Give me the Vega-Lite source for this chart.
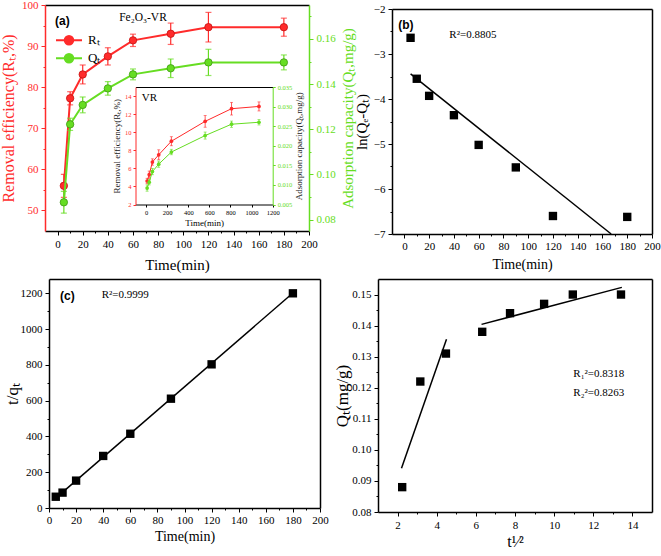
{
"$schema":"https://vega.github.io/schema/vega-lite/v6.json",
"width":661,"height":556,"autosize":"none","padding":0,"background":"white",
"config":{"view":{"stroke":null},
 "style":{"guide-title":{"font":"Liberation Serif","fontWeight":400},"guide-label":{"font":"Liberation Serif"}},
 "axis":{"grid":false,"labelFont":"Liberation Serif","titleFont":"Liberation Serif","titleFontWeight":400,"labelFontSize":11,"titleFontSize":15,"labelColor":"black","titleColor":"black","domainColor":"black","tickColor":"black","domainWidth":1.5,"tickWidth":1,"tickSize":4,"labelPadding":2,"labelFlush":false,"labelOverlap":false},
 "text":{"font":"Liberation Serif"}},
"datasets":{
 "a":[
  {"t":5,"R":56.0,"Rlo":53.2,"Rhi":58.8,"Q":0.0877,"Qlo":0.0829,"Qhi":0.0925},
  {"t":10,"R":77.3,"Rlo":75.7,"Rhi":78.9,"Q":0.1222,"Qlo":0.1195,"Qhi":0.1249},
  {"t":20,"R":83.1,"Rlo":80.8,"Rhi":85.4,"Q":0.1308,"Qlo":0.1273,"Qhi":0.1343},
  {"t":40,"R":87.5,"Rlo":85.4,"Rhi":89.6,"Q":0.1381,"Qlo":0.1351,"Qhi":0.1411},
  {"t":60,"R":91.4,"Rlo":89.9,"Rhi":92.9,"Q":0.1443,"Qlo":0.1419,"Qhi":0.1467},
  {"t":90,"R":93.0,"Rlo":90.4,"Rhi":95.6,"Q":0.1470,"Qlo":0.1429,"Qhi":0.1511},
  {"t":120,"R":94.6,"Rlo":91.0,"Rhi":98.2,"Q":0.1496,"Qlo":0.1438,"Qhi":0.1554},
  {"t":180,"R":94.6,"Rlo":92.4,"Rhi":96.8,"Q":0.1496,"Qlo":0.1463,"Qhi":0.1529}
 ],
 "inset":[
  {"t":10,"R":4.6,"Rlo":4.3,"Rhi":4.9,"Q":0.0092,"Qlo":0.0084,"Qhi":0.0100},
  {"t":30,"R":5.3,"Rlo":4.9,"Rhi":5.7,"Q":0.0107,"Qlo":0.0100,"Qhi":0.0114},
  {"t":60,"R":6.7,"Rlo":6.35,"Rhi":7.05,"Q":0.0134,"Qlo":0.0126,"Qhi":0.0142},
  {"t":120,"R":7.5,"Rlo":6.95,"Rhi":8.05,"Q":0.0153,"Qlo":0.0145,"Qhi":0.0161},
  {"t":240,"R":9.0,"Rlo":8.5,"Rhi":9.5,"Q":0.0184,"Qlo":0.0177,"Qhi":0.0191},
  {"t":560,"R":11.2,"Rlo":10.55,"Rhi":11.85,"Q":0.0226,"Qlo":0.0217,"Qhi":0.0235},
  {"t":810,"R":12.6,"Rlo":11.9,"Rhi":13.3,"Q":0.0255,"Qlo":0.0247,"Qhi":0.0263},
  {"t":1070,"R":12.85,"Rlo":12.35,"Rhi":13.35,"Q":0.0260,"Qlo":0.0253,"Qhi":0.0267}
 ],
 "b":[{"t":5,"v":-2.64},{"t":10,"v":-3.55},{"t":20,"v":-3.93},{"t":40,"v":-4.36},{"t":60,"v":-5.02},{"t":90,"v":-5.52},{"t":120,"v":-6.6},{"t":180,"v":-6.62}],
 "bfit":[{"t":5,"v":-3.44},{"t":167,"v":-7}],
 "c":[{"t":5,"v":63},{"t":10,"v":86},{"t":20,"v":153},{"t":40,"v":291},{"t":60,"v":415},{"t":90,"v":611},{"t":120,"v":803},{"t":180,"v":1200}],
 "cfit":[{"t":5,"v":55},{"t":180,"v":1202}],
 "d":[{"x":2.236,"v":0.088},{"x":3.162,"v":0.122},{"x":4.472,"v":0.131},{"x":6.325,"v":0.138},{"x":7.746,"v":0.144},{"x":9.487,"v":0.147},{"x":10.954,"v":0.150},{"x":13.416,"v":0.150}],
 "dfit":[{"x":2.2,"v":0.0941,"seg":1},{"x":4.5,"v":0.1356,"seg":1},{"x":6.29,"v":0.1404,"seg":2},{"x":13.46,"v":0.1523,"seg":2}]
},
"resolve":{"scale":{"x":"independent","y":"independent"}},
"layer":[
 {"resolve":{"axis":{"x":"independent","y":"independent"}},
  "layer":[
   {"data":{"name":"a"},"mark":{"type":"rule","color":"#ff2b2b","strokeWidth":1.2},
    "encoding":{
     "x":{"field":"t","type":"quantitative","scale":{"domain":[-10,200],"range":[45,309],"zero":false,"nice":false},
          "axis":{"orient":"bottom","offset":-325,"values":[0,20,40,60,80,100,120,140,160,180,200],"title":"Time(min)","titleFontSize":15,"titleFontWeight":400,"labelPadding":3,"titlePadding":8}},
     "y":{"field":"Rlo","type":"quantitative","scale":{"domain":[45,100],"range":[231,5],"zero":false,"nice":false},
          "axis":{"orient":"left","offset":-45,"values":[50,60,70,80,90,100],"title":"Removal efficiency(Rₜ,%)","titleFontSize":16,"titleFontWeight":400,"titlePadding":5,"labelPadding":3,"domainColor":"#ff2b2b","tickColor":"#ff2b2b","labelColor":"#ff2b2b","titleColor":"#ff2b2b"}},
     "y2":{"field":"Rhi"}}},
   {"data":{"name":"a"},"mark":{"type":"tick","orient":"horizontal","color":"#ff2b2b","size":6,"thickness":1.2},
    "encoding":{"x":{"field":"t","type":"quantitative","axis":null},"y":{"field":"Rhi","type":"quantitative","axis":null}}},
   {"data":{"name":"a"},"mark":{"type":"tick","orient":"horizontal","color":"#ff2b2b","size":6,"thickness":1.2},
    "encoding":{"x":{"field":"t","type":"quantitative","axis":null},"y":{"field":"Rlo","type":"quantitative","axis":null}}},
   {"data":{"name":"a"},"mark":{"type":"line","strokeWidth":2},
    "encoding":{
     "x":{"field":"t","type":"quantitative","axis":{"orient":"bottom","offset":-325,"values":[10,30,50,70,90,110,130,150,170,190],"labels":false,"domain":false,"tickSize":2,"title":null}},
     "y":{"field":"R","type":"quantitative","axis":{"orient":"left","offset":-45,"values":[55,65,75,85,95],"labels":false,"domain":false,"tickSize":2,"tickColor":"#ff2b2b","title":null}},
     "color":{"datum":"Rₜ","type":"nominal","scale":{"domain":["Rₜ","Qₜ"],"range":["#ff2b2b","#66dd22"]},
       "legend":{"orient":"none","legendX":61.5,"legendY":32.8,"title":null,"padding":0,"symbolType":"M-2,0L2,0M0.66,0A0.66,0.66,0,1,1,-0.66,0A0.66,0.66,0,1,1,0.66,0","symbolSize":169,"symbolStrokeWidth":2,"labelFont":"Liberation Serif","labelFontSize":13,"labelColor":"black","labelOffset":11.5,"rowPadding":1,
         "encode":{"symbols":{"update":{"fill":{"scale":"color","field":"value"},"stroke":{"scale":"color","field":"value"}}}}}}}},
   {"data":{"name":"a"},"mark":{"type":"point","shape":"circle","filled":true,"size":55,"color":"#ff2b2b","stroke":"#c41010","strokeWidth":0.8,"opacity":1},
    "encoding":{
     "x":{"field":"t","type":"quantitative","axis":{"orient":"top","offset":-5,"labels":false,"ticks":false,"title":null}},
     "y":{"field":"R","type":"quantitative","axis":null}}},
   {"data":{"values":[{}]},"mark":{"type":"text","text":"(a)","font":"Liberation Sans","fontWeight":"bold","fontSize":12,"align":"left","baseline":"middle"},
    "encoding":{"x":{"datum":-2,"type":"quantitative","axis":null},"y":{"datum":96.1,"type":"quantitative","axis":null}}},
   {"data":{"values":[{}]},"mark":{"type":"text","text":"Fe₂O₃-VR","fontSize":11.5,"align":"left","baseline":"middle"},
    "encoding":{"x":{"datum":49,"type":"quantitative","axis":null},"y":{"datum":96.9,"type":"quantitative","axis":null}}}
  ]},
 {"resolve":{"axis":{"x":"independent","y":"independent"}},
  "layer":[
   {"data":{"name":"a"},"mark":{"type":"rule","color":"#66dd22","strokeWidth":1.2},
    "encoding":{
     "x":{"field":"t","type":"quantitative","scale":{"domain":[-10,200],"range":[45,309],"zero":false,"nice":false},"axis":null},
     "y":{"field":"Qlo","type":"quantitative","scale":{"domain":[0.075,0.175],"range":[231,5],"zero":false,"nice":false},
          "axis":{"orient":"right","offset":-352,"values":[0.08,0.1,0.12,0.14,0.16],"format":".2f","title":"Adsorption capacity(Qₜ,mg/g)","titleFontSize":15,"titleFontWeight":400,"titleAngle":270,"titleBaseline":"top","titlePadding":5,"labelPadding":3,"domainColor":"#66dd22","tickColor":"#66dd22","labelColor":"#66dd22","titleColor":"#66dd22"}},
     "y2":{"field":"Qhi"}}},
   {"data":{"name":"a"},"mark":{"type":"tick","orient":"horizontal","color":"#66dd22","size":6,"thickness":1.2},
    "encoding":{"x":{"field":"t","type":"quantitative","axis":null},"y":{"field":"Qhi","type":"quantitative","axis":null}}},
   {"data":{"name":"a"},"mark":{"type":"tick","orient":"horizontal","color":"#66dd22","size":6,"thickness":1.2},
    "encoding":{"x":{"field":"t","type":"quantitative","axis":null},"y":{"field":"Qlo","type":"quantitative","axis":null}}},
   {"data":{"name":"a"},"mark":{"type":"line","strokeWidth":2},
    "encoding":{
     "x":{"field":"t","type":"quantitative","axis":null},
     "y":{"field":"Q","type":"quantitative","axis":{"orient":"right","offset":-352,"values":[0.09,0.11,0.13,0.15,0.17],"labels":false,"domain":false,"tickSize":2,"tickColor":"#66dd22","title":null}},
     "color":{"datum":"Qₜ","type":"nominal","scale":{"domain":["Rₜ","Qₜ"],"range":["#ff2b2b","#66dd22"]},
       "legend":{"orient":"none","legendX":61.5,"legendY":32.8,"title":null,"padding":0,"symbolType":"M-2,0L2,0M0.66,0A0.66,0.66,0,1,1,-0.66,0A0.66,0.66,0,1,1,0.66,0","symbolSize":169,"symbolStrokeWidth":2,"labelFont":"Liberation Serif","labelFontSize":13,"labelColor":"black","labelOffset":11.5,"rowPadding":1,
         "encode":{"symbols":{"update":{"fill":{"scale":"color","field":"value"},"stroke":{"scale":"color","field":"value"}}}}}}}},
   {"data":{"name":"a"},"mark":{"type":"point","shape":"circle","filled":true,"size":55,"color":"#66dd22","stroke":"#3d9a12","strokeWidth":0.8,"opacity":1},
    "encoding":{"x":{"field":"t","type":"quantitative","axis":null},"y":{"field":"Q","type":"quantitative","axis":null}}}
  ]},
 {"resolve":{"axis":{"x":"independent","y":"independent"}},
  "layer":[
   {"data":{"name":"inset"},"mark":{"type":"rule","color":"#ff2b2b","strokeWidth":0.8},
    "encoding":{
     "x":{"field":"t","type":"quantitative","scale":{"domain":[-100,1200],"range":[135.5,272.7],"zero":false,"nice":false},
          "axis":{"orient":"bottom","offset":-351.5,"values":[0,200,400,600,800,1000,1200],"format":"d","title":"Time(min)","titleFontSize":9,"titleFontWeight":400,"labelFontSize":6.5,"tickSize":2.5,"domainWidth":1,"labelPadding":2,"titlePadding":3}},
     "y":{"field":"Rlo","type":"quantitative","scale":{"domain":[2,15],"range":[204.5,87],"zero":false,"nice":false},
          "axis":{"orient":"left","offset":-135.5,"values":[2,4,6,8,10,12,14],"title":"Removal efficiency(Rₜ,%)","titleFontSize":9,"titleFontWeight":400,"labelFontSize":6.5,"tickSize":2.5,"domainWidth":1,"titlePadding":3,"domainColor":"#ff2b2b","tickColor":"#ff2b2b","labelColor":"#ff2b2b","titleColor":"#222222"}},
     "y2":{"field":"Rhi"}}},
   {"data":{"name":"inset"},"mark":{"type":"tick","orient":"horizontal","color":"#ff2b2b","size":3,"thickness":0.8},
    "encoding":{"x":{"field":"t","type":"quantitative","axis":null},"y":{"field":"Rhi","type":"quantitative","axis":null}}},
   {"data":{"name":"inset"},"mark":{"type":"tick","orient":"horizontal","color":"#ff2b2b","size":3,"thickness":0.8},
    "encoding":{"x":{"field":"t","type":"quantitative","axis":null},"y":{"field":"Rlo","type":"quantitative","axis":null}}},
   {"data":{"name":"inset"},"mark":{"type":"line","strokeWidth":1},
    "encoding":{
     "x":{"field":"t","type":"quantitative","axis":{"orient":"top","offset":-87,"labels":false,"ticks":false,"title":null,"domainWidth":1}},
     "y":{"field":"R","type":"quantitative","axis":null},
     "stroke":{"datum":"Rₜ","type":"nominal","scale":{"domain":["Rₜ","Qₜ"],"range":["#ff2b2b","#66dd22"]},
       "legend":{"orient":"none","legendX":240,"legendY":134,"title":null,"padding":0,"symbolType":"M-2,0L2,0M0.9,0A0.9,0.9,0,1,1,-0.9,0A0.9,0.9,0,1,1,0.9,0","symbolSize":16,"symbolStrokeWidth":1,"labelFont":"Liberation Serif","labelFontSize":6.5,"labelColor":"black","labelOffset":8,"rowPadding":1.5,
         "encode":{"symbols":{"update":{"fill":{"scale":"stroke","field":"value"},"stroke":{"scale":"stroke","field":"value"}}}}}}}},
   {"data":{"name":"inset"},"mark":{"type":"point","shape":"circle","filled":true,"size":14,"color":"#ff2b2b","opacity":1},
    "encoding":{"x":{"field":"t","type":"quantitative","axis":null},"y":{"field":"R","type":"quantitative","axis":null}}},
   {"data":{"values":[{}]},"mark":{"type":"text","text":"VR","fontSize":11,"align":"left","baseline":"middle"},
    "encoding":{"x":{"datum":-41,"type":"quantitative","axis":null},"y":{"datum":13.76,"type":"quantitative","axis":null}}}
  ]},
 {"resolve":{"axis":{"x":"independent","y":"independent"}},
  "layer":[
   {"data":{"name":"inset"},"mark":{"type":"rule","color":"#66dd22","strokeWidth":0.8},
    "encoding":{
     "x":{"field":"t","type":"quantitative","scale":{"domain":[-100,1200],"range":[135.5,272.7],"zero":false,"nice":false},"axis":null},
     "y":{"field":"Qlo","type":"quantitative","scale":{"domain":[0.005,0.035],"range":[204.5,87],"zero":false,"nice":false},
          "axis":{"orient":"right","offset":-388.3,"values":[0.005,0.01,0.015,0.02,0.025,0.03,0.035],"format":".3f","title":"Adsorption capacity(Qₜ,mg/g)","titleFontSize":9,"titleFontWeight":400,"labelFontSize":6.5,"tickSize":2.5,"domainWidth":1,"titleAngle":270,"titleBaseline":"top","titlePadding":3,"domainColor":"#66dd22","tickColor":"#66dd22","labelColor":"#66dd22","titleColor":"#222222"}},
     "y2":{"field":"Qhi"}}},
   {"data":{"name":"inset"},"mark":{"type":"tick","orient":"horizontal","color":"#66dd22","size":3,"thickness":0.8},
    "encoding":{"x":{"field":"t","type":"quantitative","axis":null},"y":{"field":"Qhi","type":"quantitative","axis":null}}},
   {"data":{"name":"inset"},"mark":{"type":"tick","orient":"horizontal","color":"#66dd22","size":3,"thickness":0.8},
    "encoding":{"x":{"field":"t","type":"quantitative","axis":null},"y":{"field":"Qlo","type":"quantitative","axis":null}}},
   {"data":{"name":"inset"},"mark":{"type":"line","strokeWidth":1},
    "encoding":{
     "x":{"field":"t","type":"quantitative","axis":null},
     "y":{"field":"Q","type":"quantitative","axis":null},
     "stroke":{"datum":"Qₜ","type":"nominal","scale":{"domain":["Rₜ","Qₜ"],"range":["#ff2b2b","#66dd22"]},
       "legend":{"orient":"none","legendX":240,"legendY":134,"title":null,"padding":0,"symbolType":"M-2,0L2,0M0.9,0A0.9,0.9,0,1,1,-0.9,0A0.9,0.9,0,1,1,0.9,0","symbolSize":16,"symbolStrokeWidth":1,"labelFont":"Liberation Serif","labelFontSize":6.5,"labelColor":"black","labelOffset":8,"rowPadding":1.5,
         "encode":{"symbols":{"update":{"fill":{"scale":"stroke","field":"value"},"stroke":{"scale":"stroke","field":"value"}}}}}}}},
   {"data":{"name":"inset"},"mark":{"type":"point","shape":"circle","filled":true,"size":14,"color":"#66dd22","opacity":1},
    "encoding":{"x":{"field":"t","type":"quantitative","axis":null},"y":{"field":"Q","type":"quantitative","axis":null}}}
  ]},
 {"resolve":{"axis":{"x":"independent","y":"independent"}},
  "layer":[
   {"data":{"name":"bfit"},"mark":{"type":"line","color":"black","strokeWidth":1.5},
    "encoding":{
     "x":{"field":"t","type":"quantitative","scale":{"domain":[-10,200],"range":[392,652],"zero":false,"nice":false},
          "axis":{"orient":"bottom","offset":-322,"values":[0,20,40,60,80,100,120,140,160,180,200],"title":"Time(min)","titleFontSize":14,"titleFontWeight":400,"labelPadding":2,"titlePadding":6}},
     "y":{"field":"v","type":"quantitative","scale":{"domain":[-7,-2],"range":[234,9],"zero":false,"nice":false},
          "axis":{"orient":"left","offset":-392,"values":[-7,-6,-5,-4,-3,-2],"title":"ln(Qₑ-Qₜ)","titleFontSize":15,"titleFontWeight":400,"titlePadding":4,"labelPadding":3}}}},
   {"data":{"name":"b"},"mark":{"type":"square","filled":true,"color":"black","size":70,"opacity":1},
    "encoding":{
     "x":{"field":"t","type":"quantitative","axis":{"orient":"bottom","offset":-322,"values":[10,30,50,70,90,110,130,150,170,190],"labels":false,"domain":false,"tickSize":2,"title":null}},
     "y":{"field":"v","type":"quantitative","axis":{"orient":"left","offset":-392,"values":[-6.5,-5.5,-4.5,-3.5,-2.5],"labels":false,"domain":false,"tickSize":2,"title":null}}}},
   {"data":{"values":[{}]},"mark":{"type":"text","text":"(b)","font":"Liberation Sans","fontWeight":"bold","fontSize":12,"align":"left","baseline":"middle"},
    "encoding":{
     "x":{"datum":-5,"type":"quantitative","axis":{"orient":"top","offset":-9,"labels":false,"ticks":false,"title":null}},
     "y":{"datum":-2.36,"type":"quantitative","axis":{"orient":"right","offset":-9,"labels":false,"ticks":false,"title":null}}}},
   {"data":{"values":[{}]},"mark":{"type":"text","text":"R²=0.8805","fontSize":11,"align":"left","baseline":"middle"},
    "encoding":{"x":{"datum":36.3,"type":"quantitative","axis":null},"y":{"datum":-2.58,"type":"quantitative","axis":null}}}
  ]},
 {"resolve":{"axis":{"x":"independent","y":"independent"}},
  "layer":[
   {"data":{"name":"cfit"},"mark":{"type":"line","color":"black","strokeWidth":1.5},
    "encoding":{
     "x":{"field":"t","type":"quantitative","scale":{"domain":[0,200],"range":[49,320],"zero":false,"nice":false},
          "axis":{"orient":"bottom","offset":-48,"values":[0,20,40,60,80,100,120,140,160,180,200],"title":"Time(min)","titleFontSize":14,"titleFontWeight":400,"labelPadding":2,"titlePadding":4}},
     "y":{"field":"v","type":"quantitative","scale":{"domain":[0,1280],"range":[508,279],"zero":false,"nice":false},
          "axis":{"orient":"left","offset":-49,"values":[0,200,400,600,800,1000,1200],"format":"d","title":"t/qₜ","titleFontSize":17,"titleFontWeight":400,"titlePadding":-1,"labelPadding":3}}}},
   {"data":{"name":"c"},"mark":{"type":"square","filled":true,"color":"black","size":70,"opacity":1},
    "encoding":{
     "x":{"field":"t","type":"quantitative","axis":{"orient":"bottom","offset":-48,"values":[10,30,50,70,90,110,130,150,170,190],"labels":false,"domain":false,"tickSize":2,"title":null}},
     "y":{"field":"v","type":"quantitative","axis":{"orient":"left","offset":-49,"values":[100,300,500,700,900,1100],"labels":false,"domain":false,"tickSize":2,"title":null}}}},
   {"data":{"values":[{}]},"mark":{"type":"text","text":"(c)","font":"Liberation Sans","fontWeight":"bold","fontSize":12,"align":"left","baseline":"middle"},
    "encoding":{
     "x":{"datum":8.1,"type":"quantitative","axis":{"orient":"top","offset":-279,"labels":false,"ticks":false,"title":null}},
     "y":{"datum":1187,"type":"quantitative","axis":{"orient":"right","offset":-341,"labels":false,"ticks":false,"title":null}}}},
   {"data":{"values":[{}]},"mark":{"type":"text","text":"R²=0.9999","fontSize":11,"align":"left","baseline":"middle"},
    "encoding":{"x":{"datum":38.9,"type":"quantitative","axis":null},"y":{"datum":1190,"type":"quantitative","axis":null}}}
  ]},
 {"resolve":{"axis":{"x":"independent","y":"independent"}},
  "layer":[
   {"data":{"name":"dfit"},"mark":{"type":"line","color":"black","strokeWidth":1.5},
    "encoding":{
     "x":{"field":"x","type":"quantitative","scale":{"domain":[1,15],"range":[378,652],"zero":false,"nice":false},
          "axis":{"orient":"bottom","offset":-44,"values":[2,4,6,8,10,12,14],"title":"t¹⁄²","titleFontSize":16,"titleFontWeight":400,"labelPadding":3,"titlePadding":3}},
     "y":{"field":"v","type":"quantitative","scale":{"domain":[0.08,0.155],"range":[512,279],"zero":false,"nice":false},
          "axis":{"orient":"left","offset":-378,"values":[0.08,0.09,0.1,0.11,0.12,0.13,0.14,0.15],"format":".2f","title":"Qₜ(mg/g)","titleFontSize":17,"titleFontWeight":400,"titlePadding":0,"labelPadding":3}},
     "detail":{"field":"seg","type":"nominal"}}},
   {"data":{"name":"d"},"mark":{"type":"square","filled":true,"color":"black","size":70,"opacity":1},
    "encoding":{
     "x":{"field":"x","type":"quantitative","axis":{"orient":"bottom","offset":-44,"values":[3,5,7,9,11,13],"labels":false,"domain":false,"tickSize":2,"title":null}},
     "y":{"field":"v","type":"quantitative","axis":{"orient":"left","offset":-378,"values":[0.085,0.095,0.105,0.115,0.125,0.135,0.145],"labels":false,"domain":false,"tickSize":2,"title":null}}}},
   {"data":{"values":[{}]},"mark":{"type":"text","text":"R₁²=0.8318","fontSize":11,"align":"left","baseline":"middle"},
    "encoding":{
     "x":{"datum":10.98,"type":"quantitative","axis":{"orient":"top","offset":-279,"labels":false,"ticks":false,"title":null}},
     "y":{"datum":0.1244,"type":"quantitative","axis":{"orient":"right","offset":-9,"labels":false,"ticks":false,"title":null}}}},
   {"data":{"values":[{}]},"mark":{"type":"text","text":"R₂²=0.8263","fontSize":11,"align":"left","baseline":"middle"},
    "encoding":{"x":{"datum":10.98,"type":"quantitative","axis":null},"y":{"datum":0.1182,"type":"quantitative","axis":null}}}
  ]}
]
}
